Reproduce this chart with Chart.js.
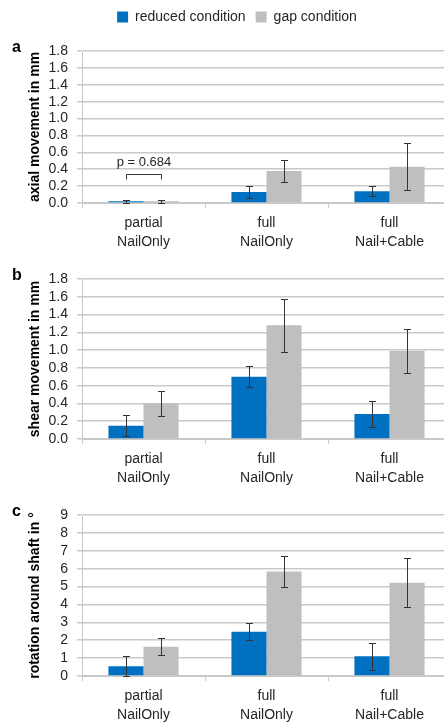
<!DOCTYPE html>
<html>
<head>
<meta charset="utf-8">
<script src="https://cdn.jsdelivr.net/npm/chart.js@4.4.0/dist/chart.umd.min.js"></script>
<style>
  html, body { margin: 0; padding: 0; background: #fff; overflow: hidden; }
  .panel { position: absolute; left: 0; width: 460px; }
</style>
</head>
<body>
<div class="panel" style="top:0;height:255px"><canvas id="chartA"></canvas></div>
<div class="panel" style="top:255px;height:235px"><canvas id="chartB"></canvas></div>
<div class="panel" style="top:490px;height:234px"><canvas id="chartC"></canvas></div>
<script>
// categories and series
var categories = [['partial', 'NailOnly'], ['full', 'NailOnly'], ['full', 'Nail+Cable']];
var seriesNames = ['reduced condition', 'gap condition'];

// a: axial movement (mm)
var axialReduced = [0.02, 0.13, 0.14];
var axialReducedErr = [0.02, 0.07, 0.06];
var axialGap = [0.02, 0.38, 0.43];
var axialGapErr = [0.02, 0.13, 0.28];

// b: shear movement (mm)
var shearReduced = [0.15, 0.70, 0.28];
var shearReducedErr = [0.12, 0.12, 0.15];
var shearGap = [0.40, 1.28, 0.99];
var shearGapErr = [0.14, 0.30, 0.25];

// c: rotation around shaft (degrees)
var rotReduced = [0.55, 2.48, 1.10];
var rotReducedErr = [0.55, 0.48, 0.76];
var rotGap = [1.64, 5.84, 5.21];
var rotGapErr = [0.48, 0.85, 1.37];

var pValueText = 'p = 0.684';

var blue = '#0070C0';
var grey = '#BFBFBF';
var textColor = '#262626';
var gridColor = '#C9C9C9';
var fontFamily = '"Liberation Sans", Arial, sans-serif';

Chart.defaults.font.family = fontFamily;
Chart.defaults.color = textColor;

// draws symmetric error bars on top of each bar
var errorBarPlugin = {
    id: 'errorBars',
    afterDatasetsDraw: function (chart) {
        var ctx = chart.ctx;
        var yScale = chart.scales.y;
        ctx.save();
        ctx.strokeStyle = '#333';
        ctx.lineWidth = 1;
        chart.data.datasets.forEach(function (ds, di) {
            var meta = chart.getDatasetMeta(di);
            meta.data.forEach(function (bar, i) {
                var v = ds.data[i], e = ds.errors[i];
                var x = Math.round(bar.x) + 0.5;
                var yTop = Math.round(yScale.getPixelForValue(v + e)) + 0.5;
                var yBot = Math.round(yScale.getPixelForValue(Math.max(v - e, 0))) + 0.5;
                ctx.beginPath();
                ctx.moveTo(x, yTop); ctx.lineTo(x, yBot);
                ctx.moveTo(x - 3.5, yTop); ctx.lineTo(x + 3.5, yTop);
                ctx.moveTo(x - 3.5, yBot); ctx.lineTo(x + 3.5, yBot);
                ctx.stroke();
            });
        });
        ctx.restore();
    }
};

// panel letter in the top left corner
var panelLabelPlugin = {
    id: 'panelLabel',
    afterDraw: function (chart, args, opts) {
        var ctx = chart.ctx;
        ctx.save();
        ctx.font = 'bold 16px ' + fontFamily;
        ctx.fillStyle = '#000';
        ctx.textAlign = 'left';
        ctx.textBaseline = 'middle';
        ctx.fillText(opts.text, 12, chart.chartArea.top - 3);
        ctx.restore();
    }
};

// significance bracket over the first category of panel a
var bracketPlugin = {
    id: 'bracket',
    afterDatasetsDraw: function (chart, args, opts) {
        if (!opts.text) return;
        var ctx = chart.ctx;
        var y = chart.scales.y;
        var x1 = Math.round(chart.getDatasetMeta(0).data[0].x) + 0.5;
        var x2 = Math.round(chart.getDatasetMeta(1).data[0].x) + 0.5;
        var yLine = Math.round(y.getPixelForValue(opts.level)) + 0.5;
        var yLeg = Math.round(y.getPixelForValue(opts.level - 0.05)) + 0.5;
        ctx.save();
        ctx.strokeStyle = '#333';
        ctx.lineWidth = 1;
        ctx.beginPath();
        ctx.moveTo(x1, yLeg); ctx.lineTo(x1, yLine); ctx.lineTo(x2, yLine); ctx.lineTo(x2, yLeg);
        ctx.stroke();
        ctx.font = '13px ' + fontFamily;
        ctx.fillStyle = textColor;
        ctx.textAlign = 'center';
        ctx.textBaseline = 'middle';
        ctx.fillText(opts.text, (x1 + x2) / 2, yLine - 12);
        ctx.restore();
    }
};

// extra room under the legend (only when it is shown)
var legendSpacer = {
    id: 'legendSpacer',
    beforeInit: function (chart) {
        if (!chart.legend) return;
        var fit = chart.legend.fit;
        chart.legend.fit = function () {
            fit.bind(chart.legend)();
            if (this.options.display) this.height += 17;
        };
    }
};

function makeChart(id, opts) {
    return new Chart(document.getElementById(id), {
        type: 'bar',
        data: {
            labels: categories,
            datasets: [
                { label: seriesNames[0], data: opts.reduced, errors: opts.reducedErr, backgroundColor: blue },
                { label: seriesNames[1], data: opts.gap, errors: opts.gapErr, backgroundColor: grey }
            ]
        },
        options: {
            responsive: true,
            maintainAspectRatio: false,
            animation: false,
            categoryPercentage: 0.57,
            barPercentage: 1.0,
            layout: { padding: { left: 23, right: 9, top: opts.padTop, bottom: opts.padBottom } },
            plugins: {
                legend: {
                    display: opts.legend,
                    position: 'top',
                    labels: { boxWidth: 11, boxHeight: 11, padding: 10, font: { size: 14 }, color: textColor }
                },
                tooltip: { enabled: false },
                panelLabel: { text: opts.letter },
                bracket: { text: opts.bracketText, level: opts.bracketLevel }
            },
            scales: {
                x: {
                    afterFit: function (s) { s.height = 48; },
                    grid: {
                        drawOnChartArea: false, drawTicks: true, tickLength: 5,
                        color: gridColor, offset: true
                    },
                    border: { color: gridColor },
                    ticks: { padding: 6, font: { size: 14, lineHeight: 1.36 }, color: textColor, maxRotation: 0 }
                },
                y: {
                    min: 0,
                    max: opts.max,
                    afterFit: function (s) { s.width = 59; },
                    grid: { color: gridColor, tickLength: 5, lineWidth: 1.5 },
                    border: { color: gridColor },
                    ticks: {
                        stepSize: opts.step, autoSkip: false, padding: 9, font: { size: 14 }, color: textColor,
                        callback: function (v) { return opts.decimals ? v.toFixed(1) : v; }
                    },
                    title: {
                        display: true, text: opts.title, color: '#000',
                        font: { size: 14, weight: 'bold', lineHeight: 1.2 }, padding: { top: 4, bottom: 4 }
                    }
                }
            }
        },
        plugins: [errorBarPlugin, panelLabelPlugin, bracketPlugin, legendSpacer]
    });
}

makeChart('chartA', {
    reduced: axialReduced, reducedErr: axialReducedErr, gap: axialGap, gapErr: axialGapErr,
    max: 1.8, step: 0.2, decimals: true, title: 'axial movement in mm', letter: 'a',
    legend: true, padTop: 0, padBottom: 4, bracketText: pValueText, bracketLevel: 0.34
});
makeChart('chartB', {
    reduced: shearReduced, reducedErr: shearReducedErr, gap: shearGap, gapErr: shearGapErr,
    max: 1.8, step: 0.2, decimals: true, title: 'shear movement in mm', letter: 'b',
    legend: false, padTop: 24, padBottom: 3
});
makeChart('chartC', {
    reduced: rotReduced, reducedErr: rotReducedErr, gap: rotGap, gapErr: rotGapErr,
    max: 9, step: 1, decimals: false, title: 'rotation around shaft in °', letter: 'c',
    legend: false, padTop: 25, padBottom: 0
});
</script>
</body>
</html>
